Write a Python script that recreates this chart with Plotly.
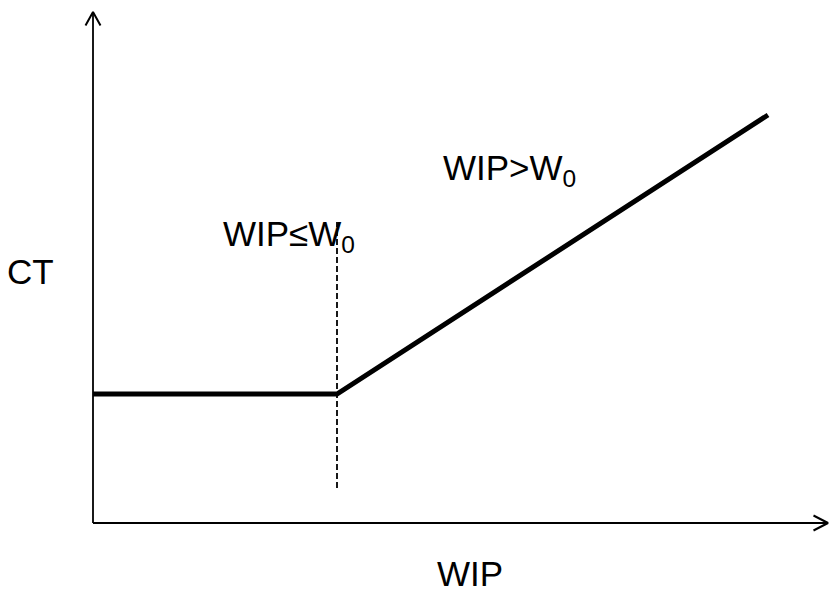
import plotly.graph_objects as go

# Data (units: 1 unit ~ axis scale)
wip = [0.0, 2.44, 6.75]          # WIP values of the CT curve
ct = [1.29, 1.29, 4.08]          # cycle time values
w0 = 2.44                        # threshold W0
w0_dash_ct = [0.35, 3.01]        # extent of dashed vertical line at W0
x_axis_max = 7.35
y_axis_max = 5.11

FONT = "Liberation Sans, Arial, sans-serif"

fig = go.Figure()

# axes
fig.add_trace(go.Scatter(x=[0, x_axis_max], y=[0, 0], mode="lines",
                         line=dict(color="black", width=1.8), hoverinfo="skip"))
fig.add_trace(go.Scatter(x=[0, 0], y=[0, y_axis_max], mode="lines",
                         line=dict(color="black", width=1.8), hoverinfo="skip"))
# open arrowheads
fig.add_trace(go.Scatter(x=[x_axis_max - 0.145, x_axis_max, x_axis_max - 0.145],
                         y=[0.075, 0, -0.075], mode="lines",
                         line=dict(color="black", width=2), hoverinfo="skip"))
fig.add_trace(go.Scatter(x=[-0.075, 0, 0.075],
                         y=[y_axis_max - 0.135, y_axis_max, y_axis_max - 0.135], mode="lines",
                         line=dict(color="black", width=2), hoverinfo="skip"))

# dashed W0 line
fig.add_trace(go.Scatter(x=[w0, w0], y=w0_dash_ct, mode="lines",
                         line=dict(color="black", width=1.8, dash="6px,3px"), hoverinfo="skip"))

# CT curve
fig.add_trace(go.Scatter(x=wip, y=ct, mode="lines",
                         line=dict(color="black", width=5), hoverinfo="skip"))

annots = [
    dict(x=-0.625, y=2.52, text="CT", xanchor="center", yanchor="middle"),
    dict(x=3.77, y=-0.50, text="WIP", xanchor="center", yanchor="middle"),
    dict(x=1.28, y=2.87, text="WIP≤W<sub>0</sub>", xanchor="left", yanchor="middle"),
    dict(x=3.48, y=3.53, text="WIP>W<sub>0</sub>", xanchor="left", yanchor="middle"),
]
for a in annots:
    fig.add_annotation(**a, showarrow=False,
                       font=dict(family=FONT, size=35, color="black"))

fig.update_layout(
    width=838, height=596,
    margin=dict(l=0, r=0, t=0, b=0),
    paper_bgcolor="white", plot_bgcolor="white",
    showlegend=False,
    xaxis=dict(range=[-0.93, 7.45], visible=False, fixedrange=True),
    yaxis=dict(range=[-0.73, 5.23], visible=False, fixedrange=True),
)

fig.write_html("out.html", config={"displayModeBar": False},
               post_script="document.body.style.margin='0';document.body.style.overflow='hidden';")
